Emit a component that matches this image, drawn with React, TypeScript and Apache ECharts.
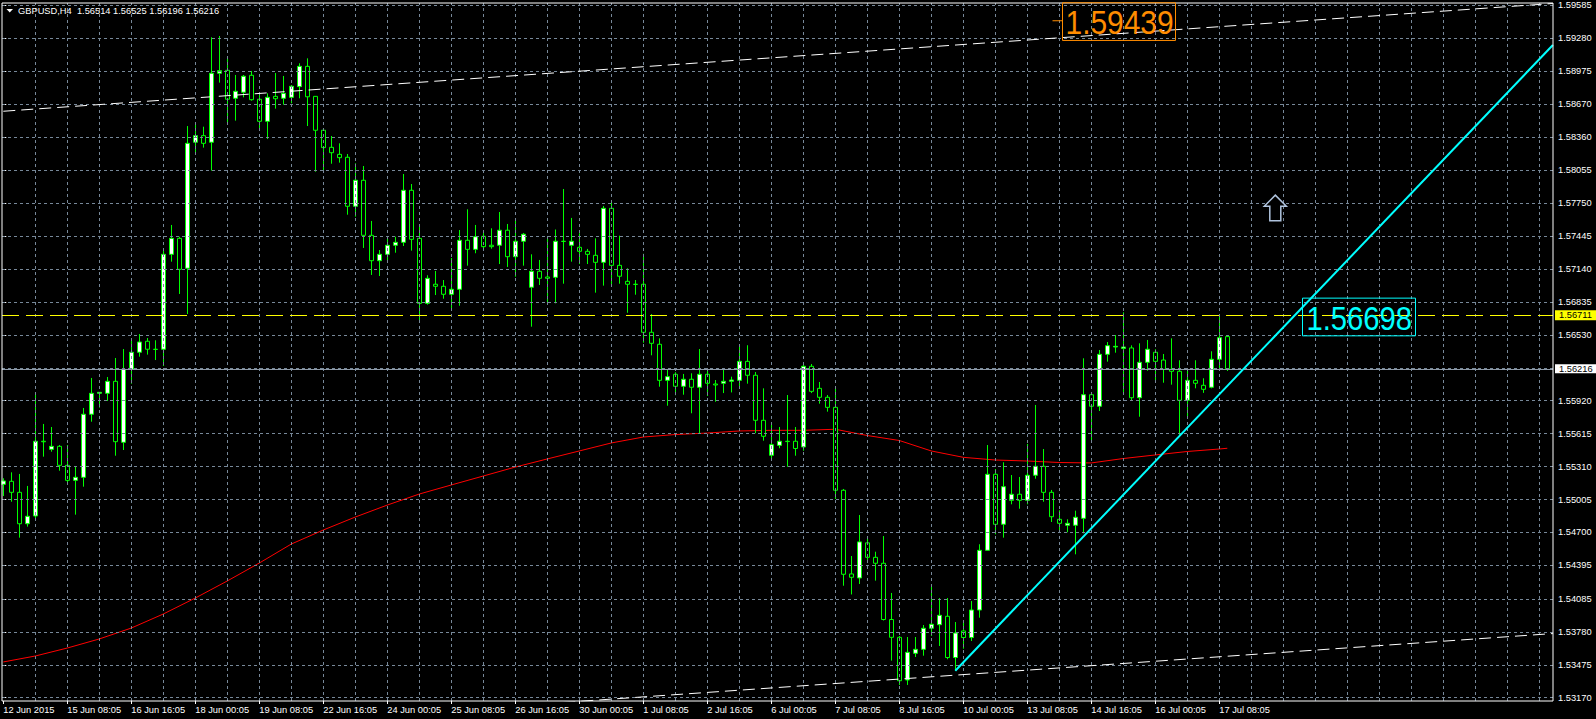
import React, { useEffect, useRef } from "react";
import * as echarts from "echarts";

// ---------------- data ----------------
const headerText = "GBPUSD,H4  1.56514 1.56525 1.56196 1.56216";

const opens = [
  1.55146, 1.55174, 1.55072, 1.54781, 1.54853, 1.55545, 1.55470, 1.55498, 1.55322, 1.55183,
  1.55211, 1.55795, 1.55989, 1.55989, 1.56100, 1.55535, 1.56211, 1.56369, 1.56471, 1.56397,
  1.56397, 1.57276, 1.57424, 1.57147, 1.58314, 1.58375, 1.58314, 1.58953, 1.58980, 1.58721,
  1.58777, 1.58934, 1.58712, 1.58508, 1.58739, 1.58721, 1.58730, 1.58829, 1.59017, 1.58739,
  1.58425, 1.58267, 1.58202, 1.58175, 1.57721, 1.57962, 1.57452, 1.57217, 1.57276, 1.57360,
  1.57387, 1.57869, 1.57424, 1.56822, 1.56999, 1.56980, 1.56906, 1.56952, 1.57406, 1.57322,
  1.57443, 1.57360, 1.57360, 1.57499, 1.57254, 1.57397, 1.56971, 1.57119, 1.57066, 1.57063,
  1.57397, 1.57360, 1.57341, 1.57304, 1.57267, 1.57202, 1.57702, 1.57174, 1.57026, 1.56999,
  1.56999, 1.56554, 1.56443, 1.56109, 1.56165, 1.56054, 1.56119, 1.56045, 1.56165, 1.56075,
  1.56082, 1.56100, 1.56109, 1.56285, 1.56156, 1.55739, 1.55415, 1.55507, 1.55545, 1.55545,
  1.55492, 1.56239, 1.56035, 1.55952, 1.55859, 1.55091, 1.54316, 1.54279, 1.54604, 1.54470,
  1.54415, 1.53894, 1.53729, 1.53334, 1.53581, 1.53618, 1.53813, 1.53846, 1.53924, 1.53542,
  1.53788, 1.53727, 1.53982, 1.54535, 1.55239, 1.54776, 1.54998, 1.55054, 1.54998, 1.55230,
  1.55313, 1.55072, 1.54822, 1.54767, 1.54767, 1.54831, 1.55976, 1.55869, 1.56350, 1.56418,
  1.56405, 1.56409, 1.55948, 1.56276, 1.56369, 1.56297, 1.56211, 1.56193, 1.55924, 1.56109,
  1.56063, 1.56045, 1.56304, 1.56514,
];
const highs = [
  1.55202, 1.55257, 1.55242, 1.55131, 1.55989, 1.55705, 1.55677, 1.55510, 1.55510, 1.55316,
  1.55853, 1.56131, 1.55998, 1.56140, 1.56316, 1.56399, 1.56495, 1.56538, 1.56501, 1.56480,
  1.57332, 1.57548, 1.57439, 1.58464, 1.58499, 1.58458, 1.59286, 1.59298, 1.59110, 1.58937,
  1.58937, 1.58974, 1.58767, 1.58767, 1.58955, 1.58928, 1.58844, 1.59045, 1.59091, 1.58742,
  1.58427, 1.58372, 1.58304, 1.58205, 1.58119, 1.58094, 1.57585, 1.57316, 1.57439, 1.57439,
  1.58020, 1.57927, 1.57548, 1.57082, 1.57122, 1.57038, 1.57242, 1.57501, 1.57693, 1.57548,
  1.57501, 1.57517, 1.57668, 1.57557, 1.57610, 1.57474, 1.57276, 1.57224, 1.57434, 1.57506,
  1.57881, 1.57613, 1.57471, 1.57326, 1.57424, 1.57724, 1.57751, 1.57449, 1.57147, 1.57038,
  1.57281, 1.56723, 1.56498, 1.56211, 1.56184, 1.56168, 1.56174, 1.56399, 1.56211, 1.56112,
  1.56220, 1.56143, 1.56443, 1.56434, 1.56186, 1.56035, 1.55720, 1.55677, 1.55973, 1.55677,
  1.56279, 1.56260, 1.56094, 1.55973, 1.56050, 1.55103, 1.54482, 1.54862, 1.54665, 1.54522,
  1.54667, 1.54140, 1.53741, 1.53732, 1.53732, 1.53843, 1.54200, 1.54093, 1.54093, 1.53871,
  1.53871, 1.54065, 1.54591, 1.55510, 1.55288, 1.55350, 1.55232, 1.55214, 1.55520, 1.55881,
  1.55473, 1.55094, 1.54905, 1.54822, 1.54902, 1.56313, 1.55992, 1.56390, 1.56464, 1.56529,
  1.56739, 1.56433, 1.56452, 1.56483, 1.56397, 1.56353, 1.56498, 1.56295, 1.56205, 1.56295,
  1.56128, 1.56378, 1.56711, 1.56525,
];
const lows = [
  1.55038, 1.54985, 1.54652, 1.54754, 1.54809, 1.55402, 1.55448, 1.55272, 1.55149, 1.54865,
  1.55124, 1.55726, 1.55856, 1.55918, 1.55411, 1.55464, 1.56078, 1.56328, 1.56347, 1.56297,
  1.56242, 1.57208, 1.56909, 1.56723, 1.58202, 1.58264, 1.58051, 1.58866, 1.58477, 1.58514,
  1.58730, 1.58699, 1.58427, 1.58344, 1.58625, 1.58662, 1.58675, 1.58721, 1.58464, 1.58041,
  1.58032, 1.58115, 1.58125, 1.57643, 1.57625, 1.57335, 1.57085, 1.57075, 1.57202, 1.57291,
  1.57353, 1.57310, 1.56647, 1.56810, 1.56899, 1.56865, 1.56754, 1.56800, 1.57171, 1.57286,
  1.57307, 1.57328, 1.57186, 1.57159, 1.57069, 1.57171, 1.56606, 1.56992, 1.56822, 1.56822,
  1.57004, 1.57208, 1.57186, 1.57186, 1.56921, 1.56986, 1.56980, 1.57004, 1.56735, 1.56902,
  1.56458, 1.56341, 1.56050, 1.55874, 1.55971, 1.55976, 1.55804, 1.55619, 1.55964, 1.55911,
  1.55991, 1.55997, 1.56032, 1.56078, 1.55619, 1.55550, 1.55365, 1.55480, 1.55309, 1.55411,
  1.55457, 1.55991, 1.55893, 1.55819, 1.55010, 1.54207, 1.54126, 1.54223, 1.54429, 1.54254,
  1.53885, 1.53513, 1.53288, 1.53288, 1.53547, 1.53559, 1.53742, 1.53649, 1.53526, 1.53420,
  1.53624, 1.53695, 1.53911, 1.54535, 1.54683, 1.54652, 1.54961, 1.54920, 1.54961, 1.55198,
  1.54985, 1.54797, 1.54702, 1.54702, 1.54498, 1.54692, 1.55541, 1.55825, 1.56282, 1.56365,
  1.55997, 1.55927, 1.55772, 1.56198, 1.56087, 1.56087, 1.56069, 1.55603, 1.55760, 1.56035,
  1.55993, 1.56035, 1.56211, 1.56196,
];
const closes = [
  1.55177, 1.55072, 1.54781, 1.54850, 1.55545, 1.55540, 1.55498, 1.55322, 1.55183, 1.55211,
  1.55795, 1.55989, 1.55998, 1.56100, 1.55541, 1.56211, 1.56369, 1.56464, 1.56397, 1.56395,
  1.57276, 1.57424, 1.57137, 1.58304, 1.58375, 1.58304, 1.58953, 1.58977, 1.58712, 1.58786,
  1.58925, 1.58708, 1.58508, 1.58730, 1.58717, 1.58767, 1.58832, 1.59017, 1.58735, 1.58425,
  1.58264, 1.58217, 1.58171, 1.57721, 1.57962, 1.57452, 1.57217, 1.57276, 1.57360, 1.57387,
  1.57869, 1.57415, 1.56822, 1.57054, 1.56980, 1.56906, 1.56952, 1.57406, 1.57322, 1.57439,
  1.57347, 1.57347, 1.57499, 1.57254, 1.57397, 1.57462, 1.57119, 1.57054, 1.57054, 1.57397,
  1.57395, 1.57397, 1.57304, 1.57276, 1.57202, 1.57702, 1.57174, 1.57073, 1.56999, 1.56997,
  1.56554, 1.56452, 1.56109, 1.56143, 1.56054, 1.56119, 1.56045, 1.56165, 1.56082, 1.56066,
  1.56100, 1.56112, 1.56285, 1.56156, 1.55739, 1.55591, 1.55513, 1.55545, 1.55542, 1.55478,
  1.56239, 1.56007, 1.55952, 1.55859, 1.55091, 1.54313, 1.54285, 1.54613, 1.54470, 1.54415,
  1.53894, 1.53729, 1.53327, 1.53590, 1.53618, 1.53813, 1.53850, 1.53933, 1.53542, 1.53769,
  1.53727, 1.53982, 1.54535, 1.55239, 1.54776, 1.55124, 1.55054, 1.54998, 1.55230, 1.55313,
  1.55072, 1.54846, 1.54785, 1.54785, 1.54841, 1.55976, 1.55869, 1.56350, 1.56430, 1.56424,
  1.56418, 1.55948, 1.56276, 1.56397, 1.56285, 1.56211, 1.56193, 1.55924, 1.56109, 1.56082,
  1.56026, 1.56304, 1.56504, 1.56216,
];

// moving average (read at every 4th bar)
const maBars = [
  0, 4, 8, 12, 16, 20, 24, 28, 32, 36, 40, 44, 48, 52, 56, 60, 64, 68, 72, 76,
  80, 84, 88, 92, 96, 100, 104, 108, 112, 116, 120, 124, 128, 132, 136, 140, 144, 148, 152, 153,
];
const maValues = [
  1.53501, 1.53556, 1.53630, 1.53714, 1.53815, 1.53945, 1.54093, 1.54251, 1.54417, 1.54593,
  1.54723, 1.54843, 1.54954, 1.55056, 1.55140, 1.55223, 1.55306, 1.55381, 1.55455, 1.55529,
  1.55584, 1.55607, 1.55621, 1.55640, 1.55646, 1.55646, 1.55656, 1.55598, 1.55552, 1.55455,
  1.55396, 1.55371, 1.55362, 1.55348, 1.55344, 1.55385, 1.55418, 1.55450, 1.55473, 1.55480,
];

// trend lines [bar, price]
const upperChannel = [[0, 1.58601], [193.7, 1.59599]];
const lowerChannel = [[70, 1.53126], [193.7, 1.53764]];
const cyanTrend = [[119, 1.5342], [193.7, 1.59214]];

// horizontal price levels
const yellowLevel = 1.56711;
const bidLevel = 1.56216;

// annotations
const orangeLabel = { bar: 132.4, price: 1.59439, text: "1.59439" };
const cyanLabel = { bar: 162.4, price: 1.56698, text: "1.56698" };
const arrowMark = { bar: 159, price: 1.57824 };

// axes
const xTickBars = [0, 8, 16, 24, 32, 40, 48, 56, 64, 72, 80, 88, 96, 104, 112, 120, 128, 136, 144, 152];
const xTickLabels = [
  "12 Jun 2015", "15 Jun 08:05", "16 Jun 16:05", "18 Jun 00:05", "19 Jun 08:05",
  "22 Jun 16:05", "24 Jun 00:05", "25 Jun 08:05", "26 Jun 16:05", "30 Jun 00:05",
  "1 Jul 08:05", "2 Jul 16:05", "6 Jul 00:05", "7 Jul 08:05", "8 Jul 16:05",
  "10 Jul 00:05", "13 Jul 08:05", "14 Jul 16:05", "16 Jul 00:05", "17 Jul 08:05",
];
const gridXBars = [
  4, 8, 12, 16, 20, 24, 28, 32, 36, 40, 44, 48, 52, 56, 60, 64, 68, 72, 76, 80, 84, 88, 92, 96,
  100, 104, 108, 112, 116, 120, 124, 128, 132, 136, 140, 144, 148, 152, 156, 160, 164, 168, 172,
  176, 180, 184, 188, 192,
];
const yTickValues = [
  1.59585, 1.5928, 1.58975, 1.5867, 1.5836, 1.58055, 1.5775, 1.57445, 1.5714, 1.56835, 1.5653,
  1.5592, 1.55615, 1.5531, 1.55005, 1.547, 1.54395, 1.54085, 1.5378, 1.53475, 1.5317,
];
const extraGridY = [1.56225];

const X_MIN = -0.1625;
const X_MAX = 193.7125;
const Y_MIN = 1.531394;
const Y_MAX = 1.596035;

const FONT = "'Liberation Sans', Arial, sans-serif";
const GRID_COLOR = "#778899";
const CANDLE_GREEN = "#00ff00";

export default function App() {
  const ref = useRef<HTMLDivElement>(null);

  useEffect(() => {
    const el = ref.current;
    if (!el) return;
    const chart = echarts.init(el, null, { renderer: "svg" });

    const labelMap: Record<number, string> = {};
    xTickBars.forEach((b, i) => (labelMap[b] = xTickLabels[i]));

    const candleData = opens.map((o, i) => [i, o, closes[i], lows[i], highs[i]]);

    const option: any = {
      animation: false,
      backgroundColor: "#000000",
      grid: {
        left: 2,
        top: 3,
        right: 43,
        bottom: 18,
        show: true,
        borderColor: "#ffffff",
        borderWidth: 1,
        backgroundColor: "transparent",
        z: 10,
      },
      xAxis: {
        type: "value",
        min: X_MIN,
        max: X_MAX,
        axisLine: { show: false },
        splitLine: { show: false },
        axisTick: {
          show: true,
          customValues: xTickBars,
          length: 3,
          lineStyle: { color: "#ffffff" },
        },
        axisLabel: {
          customValues: xTickBars,
          formatter: (v: number) => labelMap[Math.round(v)] ?? "",
          color: "#ffffff",
          fontSize: 9.3,
          fontFamily: FONT,
          align: "left",
          margin: 4,
        },
      },
      yAxis: {
        type: "value",
        position: "right",
        min: Y_MIN,
        max: Y_MAX,
        axisLine: { show: false },
        splitLine: { show: false },
        axisTick: {
          show: true,
          customValues: yTickValues,
          length: 3,
          lineStyle: { color: "#ffffff" },
        },
        axisLabel: {
          customValues: yTickValues,
          formatter: (v: number) => v.toFixed(5),
          color: "#ffffff",
          fontSize: 9.3,
          fontFamily: FONT,
          margin: 5,
        },
      },
      series: [
        {
          type: "line",
          z: 1,
          silent: true,
          data: [[-5, 1.56]],
          showSymbol: false,
          lineStyle: { opacity: 0 },
          markLine: {
            silent: true,
            symbol: "none",
            precision: 6,
            animation: false,
            label: { show: false },
            emphasis: { disabled: true },
            lineStyle: { color: GRID_COLOR, type: [3, 3], width: 1 },
            data: [
              ...yTickValues.map((v) => ({ yAxis: v })),
              ...extraGridY.map((v) => ({ yAxis: v })),
              ...gridXBars.map((b) => ({ xAxis: b })),
            ],
          },
        },
        {
          type: "line",
          z: 2,
          silent: true,
          data: [[-5, 1.56]],
          showSymbol: false,
          lineStyle: { opacity: 0 },
          markLine: {
            silent: true,
            symbol: "none",
            precision: 6,
            animation: false,
            label: { show: false },
            emphasis: { disabled: true },
            data: [
              { yAxis: yellowLevel, lineStyle: { color: "#ffff00", type: [17, 7], width: 1 } },
              { yAxis: bidLevel, lineStyle: { color: "#8e9aa8", type: "solid", width: 1 } },
            ],
          },
        },
        {
          type: "line",
          z: 3,
          silent: true,
          data: maBars.map((b, i) => [b, maValues[i]]),
          showSymbol: false,
          lineStyle: { color: "#ff0000", width: 1 },
        },
        {
          type: "candlestick",
          z: 4,
          silent: true,
          barWidth: 4,
          data: candleData,
          itemStyle: {
            color: "#ffffff",
            color0: "#000000",
            borderColor: CANDLE_GREEN,
            borderColor0: CANDLE_GREEN,
            borderColorDoji: CANDLE_GREEN,
            borderWidth: 1,
          },
          emphasis: { disabled: true },
        },
        {
          type: "line",
          z: 5,
          silent: true,
          data: upperChannel,
          showSymbol: false,
          lineStyle: { color: "#ffffff", width: 1, type: [12, 6] },
        },
        {
          type: "line",
          z: 5,
          silent: true,
          data: lowerChannel,
          showSymbol: false,
          lineStyle: { color: "#ffffff", width: 1, type: [12, 6] },
        },
        {
          type: "line",
          z: 6,
          silent: true,
          data: cyanTrend,
          showSymbol: false,
          lineStyle: { color: "#00ffff", width: 2 },
        },
      ],
    };

    chart.setOption(option);

    const toPx = (x: number, y: number): number[] =>
      chart.convertToPixel({ xAxisIndex: 0, yAxisIndex: 0 }, [x, y]) as number[];

    const o = toPx(orangeLabel.bar, orangeLabel.price);
    const c = toPx(cyanLabel.bar, cyanLabel.price);
    const a = toPx(arrowMark.bar, arrowMark.price);
    const yy = toPx(0, yellowLevel)[1];
    const yb = toPx(0, bidLevel)[1];
    const axisX = 1555;

    const bigFont = `34px ${FONT}`;
    const smallFont = `9.3px ${FONT}`;

    const graphic: any[] = [
      // header
      {
        type: "polygon",
        z: 100,
        shape: { points: [[6.5, 9], [13, 9], [9.75, 12.5]] },
        style: { fill: "#ffffff" },
      },
      {
        type: "text",
        z: 100,
        x: 18,
        y: 11,
        style: { text: headerText, fill: "#ffffff", font: smallFont, verticalAlign: "middle" },
      },
      // orange label
      {
        type: "line",
        z: 100,
        shape: { x1: o[0] - 10, y1: o[1], x2: o[0], y2: o[1] },
        style: { stroke: "#ff8c00", lineWidth: 1 },
      },
      {
        type: "rect",
        z: 100,
        shape: { x: o[0], y: o[1] - 18, width: 113, height: 37.7 },
        style: { fill: "none", stroke: "#ff8c00", lineWidth: 1 },
      },
      {
        type: "text",
        z: 101,
        x: o[0] + 3,
        y: o[1] + 1.5,
        scaleX: 0.88,
        style: { text: orangeLabel.text, fill: "#ff8c00", font: bigFont, verticalAlign: "middle" },
      },
      // cyan label
      {
        type: "rect",
        z: 100,
        shape: { x: c[0], y: c[1] - 18.6, width: 113, height: 37.7 },
        style: { fill: "none", stroke: "#00ffff", lineWidth: 1 },
      },
      {
        type: "text",
        z: 101,
        x: c[0] + 4,
        y: c[1] + 1,
        scaleX: 0.86,
        style: { text: cyanLabel.text, fill: "#00ffff", font: bigFont, verticalAlign: "middle" },
      },
      // arrow
      {
        type: "polygon",
        z: 100,
        shape: {
          points: [
            [a[0], a[1]],
            [a[0] + 11, a[1] + 11],
            [a[0] + 5.5, a[1] + 11],
            [a[0] + 5.5, a[1] + 25.7],
            [a[0] - 5.5, a[1] + 25.7],
            [a[0] - 5.5, a[1] + 11],
            [a[0] - 11, a[1] + 11],
          ],
        },
        style: { fill: "#000000", stroke: "#b0c4de", lineWidth: 1.5 },
      },
      // axis price boxes
      {
        type: "rect",
        z: 100,
        shape: { x: axisX, y: yy - 5, width: 41, height: 10 },
        style: { fill: "#ffff00" },
      },
      {
        type: "text",
        z: 101,
        x: axisX + 4,
        y: yy,
        style: { text: yellowLevel.toFixed(5), fill: "#000000", font: smallFont, verticalAlign: "middle" },
      },
      {
        type: "rect",
        z: 100,
        shape: { x: axisX, y: yb - 4.5, width: 41, height: 9 },
        style: { fill: "#ffffff" },
      },
      {
        type: "text",
        z: 101,
        x: axisX + 4,
        y: yb,
        style: { text: bidLevel.toFixed(5), fill: "#000000", font: smallFont, verticalAlign: "middle" },
      },
    ];

    chart.setOption({ graphic });

    return () => {
      chart.dispose();
    };
  }, []);

  return (
    <div
      ref={ref}
      style={{ position: "fixed", left: 0, top: 0, width: 1596, height: 719, background: "#000000" }}
    />
  );
}
